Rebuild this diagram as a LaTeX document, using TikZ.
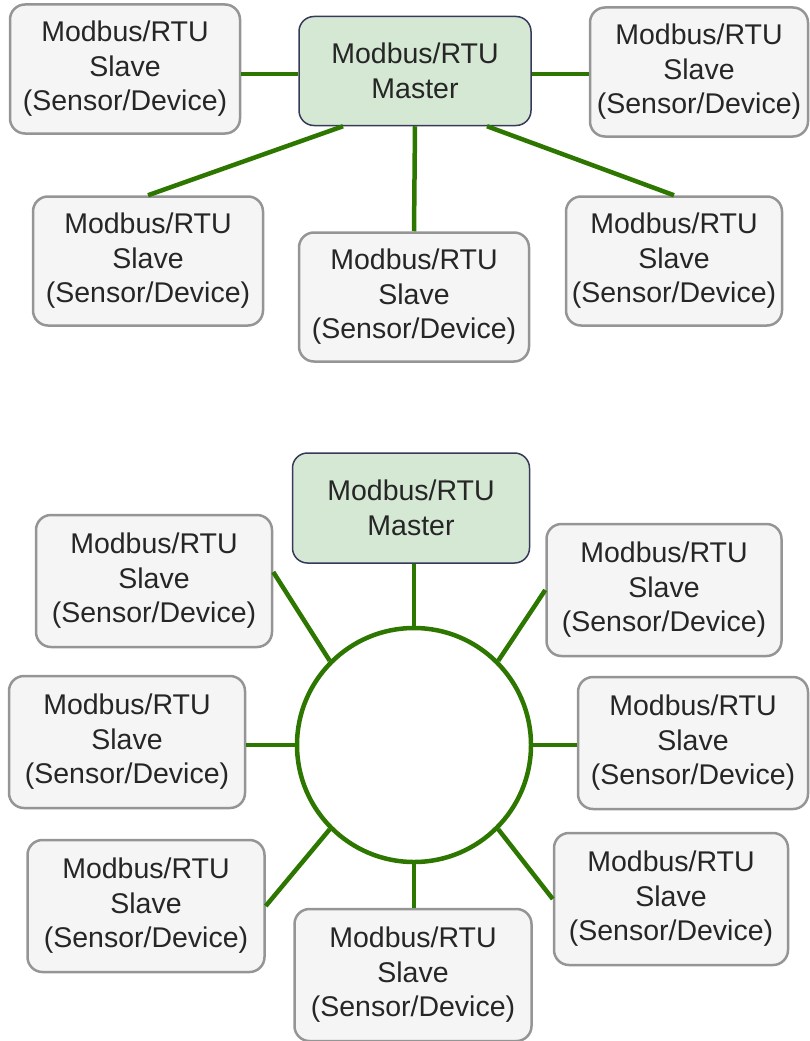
\documentclass[tikz,border=0pt]{standalone}
\usepackage{fontspec}
\setmainfont{Liberation Sans}
\definecolor{slavefill}{HTML}{F5F5F5}
\definecolor{slaveline}{HTML}{959595}
\definecolor{masterfill}{HTML}{D5E8D4}
\definecolor{masterline}{HTML}{36395A}
\definecolor{busgreen}{HTML}{2D7600}
\tikzset{
	slave/.style={draw=slaveline, fill=slavefill, line width=2.5pt, rounded corners=15pt, align=center, minimum width=230pt, minimum height=129pt, inner sep=0pt, text=black!85, font=\fontsize{28.5}{34.5}\selectfont},
	master/.style={draw=masterline, fill=masterfill, line width=1.5pt, rounded corners=15pt, align=center, minimum width=232pt, minimum height=109pt, inner sep=0pt, text=black!85, font=\fontsize{28.5}{34.5}\selectfont},
	bus/.style={draw=busgreen, line width=4.5pt}
}
\begin{document}
\begin{tikzpicture}[x=1pt, y=-1pt]
		\useasboundingbox (0,0) rectangle (810,1041);

		% star
		\node[master] (m1) at (415,71) {Modbus/RTU\\Master};
		\node[slave] (s1) at (125,69) {Modbus/RTU\\Slave\\(Sensor/Device)};
		\node[slave, minimum width=218pt] (s2) at (699,72) {Modbus/RTU\\Slave\\(Sensor/Device)};
		\node[slave] (s3) at (148,261) {Modbus/RTU\\Slave\\(Sensor/Device)};
		\node[slave] (s4) at (414,297) {Modbus/RTU\\Slave\\(Sensor/Device)};
		\node[slave, minimum width=216pt] (s5) at (674,261) {Modbus/RTU\\Slave\\(Sensor/Device)};

		\draw[bus] (m1.west |- 0,74) -- (s1.east |- 0,74);
		\draw[bus] (m1.east |- 0,74) -- (s2.west |- 0,74);
		\draw[bus] ([xshift=-72pt]m1.south) -- (s3.north);
		\draw[bus] (m1.south) -- (s4.north);
		\draw[bus] ([xshift=72pt]m1.south) -- (s5.north);

		% ring
		\node[master, minimum width=237pt, minimum height=110pt] (m2) at (411,508) {Modbus/RTU\\Master};
		\node[circle, draw=busgreen, line width=4.5pt, minimum size=234pt, inner sep=0pt] (ring) at (414,745) {};

		\foreach \nm/\sxy/\bw in {r1/{154,581}/236, r2/{664,590}/235, r3/{127,742}/236, r4/{693,743}/230, r5/{146,906}/237, r6/{671,899}/234, r7/{413,975}/237} {
			\node[slave, minimum width=\bw pt, minimum height=132pt] (\nm) at (\sxy) {Modbus/RTU\\Slave\\(Sensor/Device)};
		}

		\draw[bus] (m2.south -| ring.north) -- (ring.north);
		\draw[bus] (ring.135) -- ([yshift=9pt]r1.east);
		\draw[bus] (ring.45) -- (r2.west);
		\draw[bus] (ring.west) -- (r3.east |- ring.west);
		\draw[bus] (ring.east) -- (r4.west |- ring.east);
		\draw[bus] (ring.225) -- (r5.east);
		\draw[bus] (ring.315) -- (r6.west);
		\draw[bus] (ring.south) -- (r7.north -| ring.south);
	\end{tikzpicture}
\end{document}
